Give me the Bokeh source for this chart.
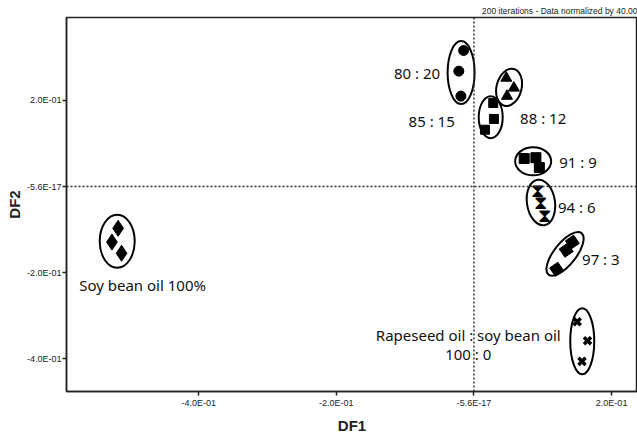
from bokeh.plotting import figure
from bokeh.models import FixedTicker, Span, ColumnDataSource
from bokeh.core.properties import value
from bokeh.embed import file_html
from bokeh.resources import INLINE

# ---------------- data ----------------
soy_x = [-0.517, -0.526, -0.512]
soy_y = [-0.097, -0.129, -0.155]
r80_x = [-0.015, -0.022, -0.019]
r80_y = [0.316, 0.268, 0.210]
r85_x = [0.028, 0.029, 0.016]
r85_y = [0.194, 0.157, 0.132]
r88_x = [0.047, 0.058, 0.048]
r88_y = [0.252, 0.229, 0.210]
r91_x = [0.073, 0.090, 0.095]
r91_y = [0.065, 0.067, 0.044]
r94_x = [0.093, 0.096, 0.103]
r94_y = [-0.009, -0.037, -0.065]
r97_x = [0.143, 0.134, 0.120]
r97_y = [-0.129, -0.148, -0.192]
r100_x = [0.150, 0.165, 0.157]
r100_y = [-0.314, -0.358, -0.406]

group_labels = ["Soy bean oil 100%", "80 : 20", "85 : 15", "88 : 12",
                "91  : 9", "94  : 6", "97  : 3",
                "Rapeseed oil : soy bean oil\n100 : 0"]

x_ticks = [-0.4, -0.2, 0.0, 0.2]
x_tick_labels = ["-4.0E-01", "-2.0E-01", "-5.6E-17", "2.0E-01"]
y_ticks = [-0.4, -0.2, 0.0, 0.2]
y_tick_labels = ["-4.0E-01", "-2.0E-01", "-5.6E-17", "2.0E-01"]

x_axis_label = "DF1"
y_axis_label = "DF2"
note_text = "200 iterations - Data normalized by 40.00"

X_RANGE = (-0.592, 0.2376)
Y_RANGE = (-0.476, 0.3926)

groups = [(soy_x, soy_y), (r80_x, r80_y), (r85_x, r85_y), (r88_x, r88_y),
          (r91_x, r91_y), (r94_x, r94_y), (r97_x, r97_y), (r100_x, r100_y)]

# ---------------- styles ----------------
# marker, size, angle, line_width
marker_style = [("diamond", 16, 0.0, 0), ("circle", 10, 0.0, 0), ("square", 9, 0.0, 0),
                ("triangle", 11, 0.0, 0), ("square", 10, 0.0, 0), (None, 0, 0.0, 0),
                ("square", 10, 0.6, 0), ("x", 10, 0.0, 3.5)]
# ellipse width, height (px), angle (rad)
ellipse_style = [(35, 53, 0.0), (27, 63, 0.0), (24, 42, 0.0), (25, 38, -0.25),
                 (36, 28, 0.0), (28, 46, 0.15), (53, 22, 0.9), (24, 66, 0.0)]
# label offsets (px), align
label_style = [(-38, 44, "left"), (-21, 0, "right"), (-36, 4, "right"), (11, 31, "left"),
               (26, 1, "left"), (17, 5, "left"), (17, 5, "left"), (-114, 3, "center")]

p = figure(width=637, height=436, output_backend="svg", toolbar_location=None,
           x_range=X_RANGE, y_range=Y_RANGE, title=note_text,
           min_border_left=66, min_border_right=0, min_border_top=17, min_border_bottom=43)
p.grid.visible = False
p.outline_line_color = "#222222"
p.outline_line_width = 1.5
p.background_fill_color = "white"
p.border_fill_color = "white"

p.title.align = "right"
p.title.text_font = "Liberation Sans"
p.title.text_font_style = "normal"
p.title.text_font_size = "8.5px"
p.title.text_color = "#222222"
p.title.standoff = 3
p.title.offset = 0

for ax, ticks, labels in ((p.xaxis[0], x_ticks, x_tick_labels), (p.yaxis[0], y_ticks, y_tick_labels)):
    ax.ticker = FixedTicker(ticks=ticks)
    ax.major_label_overrides = {t: l for t, l in zip(ticks, labels)}
    ax.major_tick_out = 4
    ax.major_tick_in = 0
    ax.minor_tick_line_color = None
    ax.axis_line_color = "#222222"
    ax.axis_line_width = 1.5
    ax.major_tick_line_color = "#222222"
    ax.major_tick_line_width = 1.5
    ax.major_label_text_font = "Liberation Sans"
    ax.major_label_text_font_size = "9px"
    ax.major_label_text_color = "#222222"
    ax.axis_label_text_font = "Liberation Sans"
    ax.axis_label_text_font_style = "bold"
    ax.axis_label_text_font_size = "15px"
    ax.axis_label_text_color = "#222222"
p.xaxis.axis_label = x_axis_label
p.yaxis.axis_label = y_axis_label
p.xaxis.major_label_standoff = 2
p.xaxis.axis_label_standoff = 6
p.yaxis.major_label_standoff = 1
p.yaxis.axis_label_standoff = 1

p.add_layout(Span(location=0, dimension="height", line_dash="2 2", line_color="#333333", line_width=1.5))
p.add_layout(Span(location=0, dimension="width", line_dash="2 2", line_color="#333333", line_width=1.5))

cx = [sum(g[0]) / len(g[0]) for g in groups]
cy = [sum(g[1]) / len(g[1]) for g in groups]

ell = ColumnDataSource(dict(x=cx, y=cy, w=[e[0] for e in ellipse_style],
                            h=[e[1] for e in ellipse_style], a=[e[2] for e in ellipse_style]))
p.ellipse(x="x", y="y", width="w", height="h", angle="a", source=ell,
          width_units="screen", height_units="screen",
          fill_color=None, line_color="black", line_width=2)

for (gx, gy), (mk, sz, ang, lw) in zip(groups, marker_style):
    if mk is None:
        p.text(x=gx, y=gy, text=["\u29d7"] * len(gx), text_font=value("DejaVu Sans"),
               text_font_size="19px", text_align="center", text_baseline="middle", text_color="black")
    elif mk == "x":
        p.scatter(x=gx, y=gy, marker=mk, size=sz, line_color="black", line_width=lw)
    else:
        p.scatter(x=gx, y=gy, marker=mk, size=sz, angle=ang, fill_color="black", line_color="black")

lab = ColumnDataSource(dict(x=cx, y=cy, text=group_labels,
                            xo=[l[0] for l in label_style], yo=[l[1] for l in label_style],
                            al=[l[2] for l in label_style]))
p.text(x="x", y="y", text="text", x_offset="xo", y_offset="yo", text_align="al",
       text_baseline="middle", source=lab, text_font=value("Noto Sans"),
       text_font_size="15px", text_color="#111111", text_line_height=0.94)

open("out.html", "w").write(file_html(p, INLINE))
